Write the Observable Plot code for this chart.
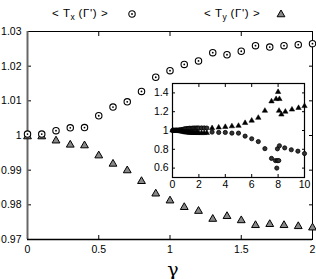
<!DOCTYPE html>
<html><head><meta charset="utf-8">
<script src="https://cdn.jsdelivr.net/npm/d3@7"></script>
<script src="https://cdn.jsdelivr.net/npm/@observablehq/plot@0.6"></script>
<style>
body{margin:0;background:#fff;font-family:"Liberation Sans",Arial,sans-serif;}
#wrap{position:relative;width:316px;height:279px;overflow:hidden;background:#fff;}
#main{position:absolute;left:0;top:0;}
#inset{position:absolute;left:140px;top:75px;}
#legend{position:absolute;left:0;top:0;width:316px;height:28px;font-size:11.5px;color:#000;}
.lg{position:absolute;top:7px;white-space:nowrap;line-height:12px;letter-spacing:0.6px;}
.lg sub{font-size:8.5px;vertical-align:-3px;line-height:0;letter-spacing:0;}
</style></head><body>
<div id="wrap"><div id="main"></div><div id="inset"></div><div id="legend"></div></div>
<script>
// ---- main data ----
const gamma = [0,0.1,0.2,0.3,0.4,0.5,0.6,0.7,0.8,0.9,1.0,1.1,1.2,1.3,1.4,1.5,1.6,1.7,1.8,1.9,2.0];
const tx = [1.0004,1.0004,1.0014,1.0022,1.0023,1.0057,1.0082,1.0097,1.0127,1.0168,1.0187,1.0205,1.0215,1.0239,1.0233,1.0243,1.0259,1.0255,1.0259,1.0262,1.0265];
const ty = [0.9997,0.9997,0.9985,0.9973,0.9971,0.9942,0.9918,0.9899,0.9868,0.9832,0.9812,0.9793,0.9782,0.9759,0.9767,0.9755,0.9741,0.9744,0.9741,0.9738,0.9734];
const xTicks = [0,0.5,1,1.5,2];
const xTickLabels = ["0","0.5","1","1.5","2"];
const yTicks = [0.97,0.98,0.99,1.0,1.01,1.02,1.03];
const yTickLabels = ["0.97","0.98","0.99","1","1.01","1.02","1.03"];
const xLabel = "γ";
const legendBase = ["T","T"];
const legendSub = ["x","y"];
// ---- inset data ----
const inTxX = [0,0.1,0.2,0.3,0.4,0.5,0.6,0.7,0.8,0.9,1.0,1.1,1.2,1.3,1.4,1.5,1.6,1.7,1.8,1.9,2.0,2.2,2.4,2.6,
  3,3.5,4,4.5,5,5.5,6,6.5,7,7.5,7.8,7.95,8.05,7.9,7.95,8.1,8.5,9,9.5,10];
const inTx = [1.0004,1.0004,1.0014,1.0022,1.0023,1.0057,1.0082,1.0097,1.0127,1.0168,1.0187,1.0205,1.0215,1.0239,1.0233,1.0243,1.0259,1.0255,1.0259,1.0262,1.0265,1.027,1.027,1.026,
  0.983,0.979,0.979,0.972,0.972,0.94,0.912,0.882,0.807,0.703,0.68,0.68,0.68,0.60,0.805,0.838,0.815,0.795,0.78,0.755];
const inTyX = [0,0.1,0.2,0.3,0.4,0.5,0.6,0.7,0.8,0.9,1.0,1.1,1.2,1.3,1.4,1.5,1.6,1.7,1.8,1.9,2.0,2.2,2.4,2.6,
  3,3.5,4,4.5,5,5.5,6,6.5,7,7.5,7.85,8.0,8.1,8.07,8.25,8.55,9.05,9.55,10];
const inTy = [0.9997,0.9997,0.9985,0.9973,0.9971,0.9942,0.9918,0.9899,0.9868,0.9832,0.9812,0.9793,0.9782,0.9759,0.9767,0.9755,0.9741,0.9744,0.9741,0.9738,0.9734,0.973,0.973,0.974,
  1.025,1.032,1.038,1.045,1.05,1.08,1.105,1.135,1.21,1.31,1.335,1.41,1.335,1.21,1.17,1.20,1.223,1.24,1.26];
const inXTicks = [0,2,4,6,8,10];
const inYTicks = [0.6,0.8,1.0,1.2,1.4];
const inYTickLabels = ["0.6","0.8","1","1.2","1.4"];

const mainData = gamma.map((g,i)=>({g, tx: tx[i], ty: ty[i]}));
const inTxData = inTxX.map((x,i)=>({x, y: inTx[i]}));
const inTyData = inTyX.map((x,i)=>({x, y: inTy[i]}));

const font = "Liberation Sans, Arial, sans-serif";

const main = Plot.plot({
  width: 316, height: 279,
  marginTop: 31, marginBottom: 40, marginLeft: 27, marginRight: 4,
  style: {fontFamily: font, fontSize: "10px", color: "black", background: "transparent", overflow: "visible"},
  x: {domain: [0,2]},
  y: {domain: [0.97,1.03]},
  marks: [
    Plot.frame({stroke: "black", strokeWidth: 1}),
    Plot.axisY(yTicks, {anchor: "left", tickSize: -4, tickPadding: 10, tickFormat: d => yTickLabels[yTicks.indexOf(d)], label: null, fontSize: 10.5}),
    Plot.axisY(yTicks, {anchor: "right", tickSize: -4, tickFormat: () => "", label: null}),
    Plot.axisX(xTicks, {anchor: "bottom", tickSize: -4, tickPadding: 10, tickFormat: d => xTickLabels[xTicks.indexOf(d)], label: null, fontSize: 10.5}),
    Plot.axisX(xTicks, {anchor: "top", tickSize: -4, tickFormat: () => "", label: null}),
    Plot.ruleX([0], {stroke: "#666", strokeWidth: 2}),
    Plot.ruleY([0.97], {stroke: "black", strokeWidth: 1.5}),
    Plot.dot(mainData, {x: "g", y: "ty", symbol: "triangle", r: 2.9, fill: "#888", stroke: "black", strokeWidth: 1}),
    Plot.dot(mainData, {x: "g", y: "tx", r: 3.2, fill: "white", stroke: "black", strokeWidth: 1.1}),
    Plot.dot(mainData, {x: "g", y: "tx", r: 0.9, fill: "black", stroke: null}),
    Plot.text([xLabel], {frameAnchor: "bottom", dy: 30, dx: 3, fontSize: 19, lineAnchor: "middle", fontFamily: "DejaVu Serif, serif"})
  ]
});
document.getElementById("main").appendChild(main);

const inset = Plot.plot({
  width: 170, height: 125,
  marginTop: 8, marginBottom: 23, marginLeft: 32, marginRight: 6,
  style: {fontFamily: font, fontSize: "10.5px", color: "black", background: "transparent", overflow: "visible"},
  x: {domain: [0,10]},
  y: {domain: [0.5,1.5]},
  marks: [
    Plot.frame({stroke: "black", strokeWidth: 1.2}),
    Plot.axisY(inYTicks, {anchor: "left", tickSize: -3, tickPadding: 7, tickFormat: d => inYTickLabels[inYTicks.indexOf(d)], label: null}),
    Plot.axisY(inYTicks, {anchor: "right", tickSize: -3, tickFormat: () => "", label: null}),
    Plot.axisX(inXTicks, {anchor: "bottom", tickSize: -3, tickPadding: 6, label: null}),
    Plot.axisX(inXTicks, {anchor: "top", tickSize: -3, tickFormat: () => "", label: null}),
    Plot.dot(inTxData, {x: "x", y: "y", r: 2.1, fill: "#333", stroke: "black", strokeWidth: 0.8}),
    Plot.dot(inTyData, {x: "x", y: "y", symbol: "triangle", r: 2.0, fill: "black", stroke: "black", strokeWidth: 0.5})
  ]
});
document.getElementById("inset").appendChild(inset);

// ---- legend ----
const legend = document.getElementById("legend");
const textLeft = [52, 204];
const symLeft = [132, 281];
legendBase.forEach((b, i) => {
  const s = document.createElement("span");
  s.className = "lg";
  s.style.left = textLeft[i] + "px";
  s.innerHTML = "&lt; " + b + "<sub>" + legendSub[i] + "</sub> (Γ') &gt;";
  legend.appendChild(s);
  const svg = d3.create("svg").attr("width", 10).attr("height", 10)
    .style("left", (symLeft[i] - 5) + "px").style("top", "9px").style("position", "absolute");
  if (i === 0) {
    svg.append("circle").attr("cx", 5).attr("cy", 5).attr("r", 3.2).attr("fill", "white").attr("stroke", "black").attr("stroke-width", 1.1);
    svg.append("circle").attr("cx", 5).attr("cy", 5).attr("r", 0.9).attr("fill", "black");
  } else {
    svg.append("path").attr("transform", "translate(5,5.5)").attr("d", d3.symbol(d3.symbolTriangle, Math.PI * 2.9 * 2.9)())
      .attr("fill", "#888").attr("stroke", "black");
  }
  legend.appendChild(svg.node());
});
</script>
</body></html>
